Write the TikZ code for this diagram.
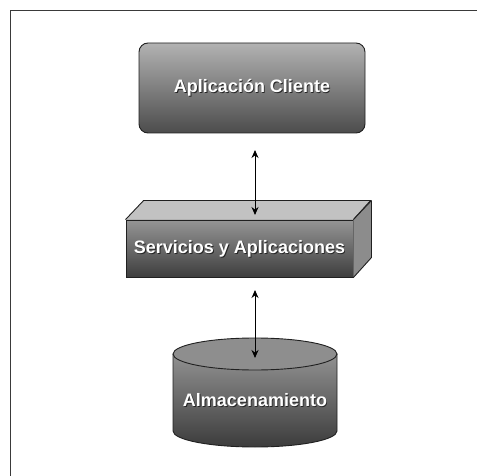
\documentclass[tikz,border=0pt]{standalone}
\usepackage{fontspec}
\setmainfont{Liberation Sans}
\usetikzlibrary{arrows.meta,shapes.geometric}
\definecolor{frameclr}{HTML}{3A3A3A}
\definecolor{boxtop}{HTML}{B2B2B2}
\definecolor{boxbot}{HTML}{4C4C4C}
\definecolor{fronttop}{HTML}{959595}
\definecolor{frontbot}{HTML}{3E3E3E}
\definecolor{topface}{HTML}{C2C2C2}
\definecolor{sideface}{HTML}{8C8C8C}
\definecolor{cyltop}{HTML}{A0A0A0}
\definecolor{cylbot}{HTML}{3C3C3C}
\definecolor{cylcap}{HTML}{8E8E8E}
\definecolor{edge}{HTML}{202020}
\newcommand{\shtext}[1]{\fontsize{18}{21}\selectfont\bfseries #1}
\tikzset{
  lbl/.style={text=white, font=\shtext{}, inner sep=0pt},
  lblshadow/.style={text=black!85, font=\shtext{}, inner sep=0pt},
  link/.style={draw=black, line width=1pt, {Stealth[length=8pt,width=7pt]}-{Stealth[length=8pt,width=7pt]}},
  outline/.style={draw=edge, line width=0.9pt},
}
\begin{document}
\begin{tikzpicture}[x=1pt,y=1pt]
\useasboundingbox (0,0) rectangle (477,-476);
% frame
\draw[frameclr, line width=1.6pt] (10.5,-476) -- (10.5,-10.5) -- (477,-10.5);
% top box
\node[outline, rounded corners=9pt, minimum width=226pt, minimum height=90pt,
  top color=boxtop, bottom color=boxbot, inner sep=0pt] (client) at (252,-88) {};
\node[lblshadow] at ([shift={(0.9,-0.9)}]client.center) {Aplicación Cliente};
\node[lbl] (clientlbl) at (client.center) {Aplicación Cliente};
% middle box
\node[outline, minimum width=227pt, minimum height=57pt, top color=fronttop, bottom color=frontbot,
  inner sep=0pt] (serv) at (239.5,-248.5) {};
\fill[topface] (serv.north west) -- ++(18,19) -- ++(227,0) -- (serv.north east) -- cycle;
\draw[outline] (serv.north west) -- ++(18,19) -- ++(227,0) -- (serv.north east);
\fill[sideface] (serv.north east) -- ++(18,19) -- ++(0,-57) -- (serv.south east) -- cycle;
\draw[outline] ([shift={(18,19)}]serv.north east) -- ++(0,-57) -- (serv.south east);
\draw[outline] (serv.north east) -- ++(18,19);
\node[lblshadow] at ([shift={(0.9,-0.9)}]serv.center) {Servicios y Aplicaciones};
\node[lbl] (servlbl) at (serv.center) {Servicios y Aplicaciones};
% cylinder
\coordinate (cyltopc) at (255,-354);
\coordinate (cylbotc) at (255,-431);
\shade[top color=cyltop, bottom color=cylbot]
  (173,-354) -- (173,-431) arc[start angle=180,end angle=360,x radius=82,y radius=16]
  -- (337,-354) arc[start angle=0,end angle=180,x radius=82,y radius=16] -- cycle;
\fill[cylcap] (cyltopc) ellipse[x radius=82,y radius=16];
\draw[outline] (cyltopc) ellipse[x radius=82,y radius=16];
\draw[outline] (173,-354) -- (173,-431) arc[start angle=180,end angle=360,x radius=82,y radius=16] -- (337,-354);
\node[inner sep=0pt, minimum width=164pt, minimum height=109pt] (store) at (255,-392.5) {};
\node[lblshadow] at (255.9,-400.9) {Almacenamiento};
\node[lbl] (storelbl) at (255,-400) {Almacenamiento};
% connectors
\coordinate (a1s) at (255,-150);
\coordinate (a1e) at (255,-215);
\coordinate (a2s) at (255,-290);
\coordinate (a2e) at (255,-358);
\draw[link] (a1s) -- (a1e);
\draw[link] (a2s) -- (a2e);
\end{tikzpicture}
\end{document}
